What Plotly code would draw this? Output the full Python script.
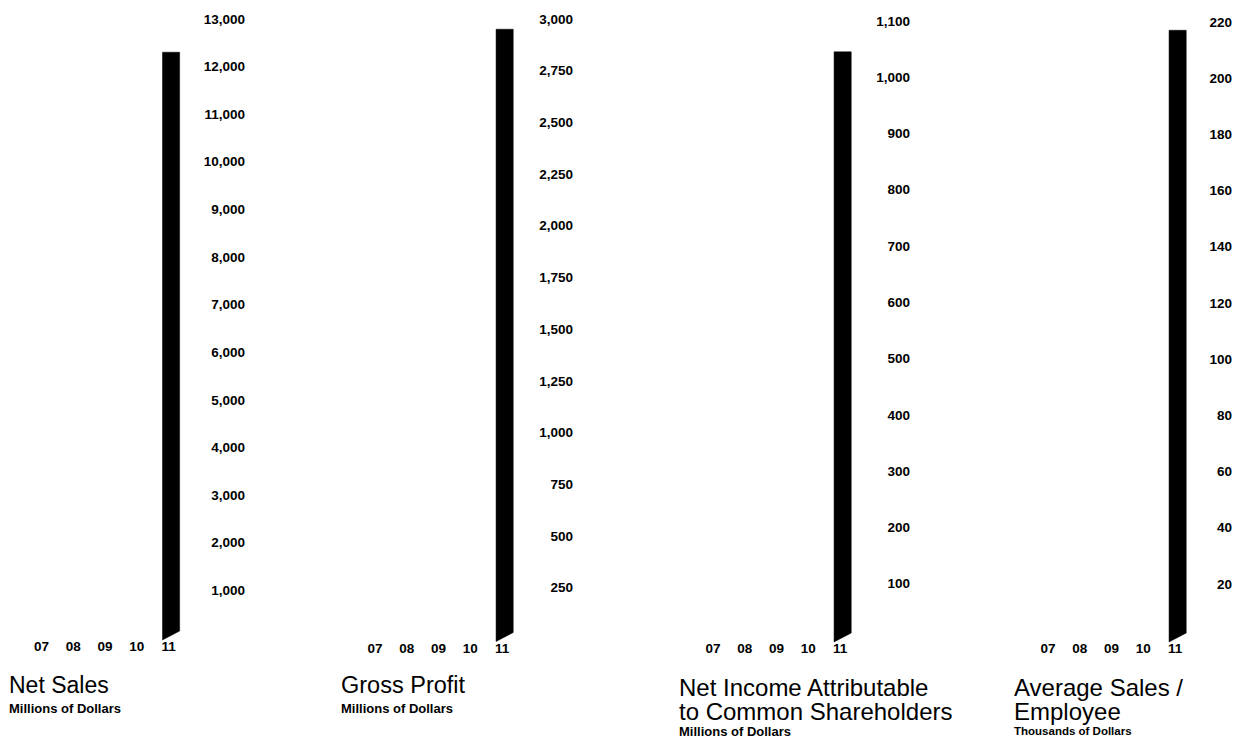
import plotly.graph_objects as go

W, H = 1235, 742

# Fiscal years on the category axis of every panel
years = ["07", "08", "09", "10", "11"]

# Values per panel (only the 2011 bars are printed)
net_sales = [None, None, None, None, 12300]          # millions of dollars
gross_profit = [None, None, None, None, 2950]        # millions of dollars
net_income = [None, None, None, None, 1045]          # millions of dollars
sales_per_employee = [None, None, None, None, 217]   # thousands of dollars

# Tick values for the value axes
ticks_sales = list(range(1000, 13001, 1000))
ticks_profit = list(range(250, 3001, 250))
ticks_income = list(range(100, 1101, 100))
ticks_employee = list(range(20, 221, 20))

FONT = "Liberation Sans, Arial, Helvetica, sans-serif"

# Panel layout in pixels: x-axis left/right, zero line, top tick, label edge
panels = [
    dict(vals=net_sales, ticks=ticks_sales, x0=25.6, x1=184.4, zero=637, top=12, lab=245),
    dict(vals=gross_profit, ticks=ticks_profit, x0=359, x1=518, zero=638.5, top=12, lab=573),
    dict(vals=net_income, ticks=ticks_income, x0=697, x1=856, zero=639, top=14, lab=910),
    dict(vals=sales_per_employee, ticks=ticks_employee, x0=1032, x1=1191, zero=639, top=15, lab=1232),
]

EXT = 5           # px of axis below the zero line for the slanted foot
SLANT_L = 2       # px the left foot drops below zero
SLANT_R = 7       # px the right foot sits above zero
HALF_W = 0.27     # half bar width in category units
BAR_SHIFT = 0.08  # bars sit slightly right of their year label

TICK_FONT = dict(size=13.5, family=FONT, weight="bold", color="black")

fig = go.Figure()
layout = dict(
    width=W, height=H,
    margin=dict(l=0, r=0, t=0, b=0),
    paper_bgcolor="white", plot_bgcolor="white",
    showlegend=False,
    font=dict(family=FONT, color="black"),
)

for k, p in enumerate(panels, start=1):
    sx = "" if k == 1 else str(k)
    top_val = p["ticks"][-1]
    upp = top_val / (p["zero"] - p["top"])  # data units per pixel
    lo = -EXT * upp

    for i, v in enumerate(p["vals"]):
        if v is None:
            continue
        c = i + BAR_SHIFT
        fig.add_trace(go.Scatter(
            x=[c - HALF_W, c - HALF_W, c + HALF_W, c + HALF_W, c - HALF_W],
            y=[-SLANT_L * upp, v, v, SLANT_R * upp, -SLANT_L * upp],
            mode="lines", fill="toself",
            fillcolor="black", line=dict(color="black", width=0.5),
            hoverinfo="skip",
            xaxis="x" + sx, yaxis="y" + sx,
        ))

    layout["xaxis" + sx] = dict(
        domain=[p["x0"] / W, p["x1"] / W],
        range=[-0.5, 4.5],
        tickvals=list(range(len(years))), ticktext=years,
        showgrid=False, zeroline=False, showline=False, ticks="",
        ticklabelstandoff=-6,
        tickfont=TICK_FONT,
        anchor="y" + sx, fixedrange=True,
    )
    layout["yaxis" + sx] = dict(
        domain=[1 - (p["zero"] + EXT) / H, 1 - p["top"] / H],
        range=[lo, top_val],
        tickvals=p["ticks"], tickformat=",d",
        showgrid=False, zeroline=False, showline=False, ticks="",
        side="left", anchor="free", position=p["lab"] / W,
        tickfont=TICK_FONT,
        fixedrange=True,
    )

annotations = []


def text(x, y, s, size, bold=False):
    annotations.append(dict(
        xref="paper", yref="paper", x=x / W, y=1 - y / H,
        xanchor="left", yanchor="middle", showarrow=False, text=s,
        borderpad=0,
        font=dict(size=size, family=FONT, color="black",
                  weight="bold" if bold else "normal"),
    ))


# Panel titles and unit captions
text(8, 684, "Net Sales", 23)
text(8, 708, "Millions of Dollars", 13, True)
text(340, 684, "Gross Profit", 23.5)
text(340, 708, "Millions of Dollars", 13, True)
text(678, 687, "Net Income Attributable", 24)
text(678, 711, "to Common Shareholders", 24)
text(678, 731, "Millions of Dollars", 13, True)
text(1013, 687, "Average Sales /", 24)
text(1013, 711, "Employee", 24)
text(1013, 731, "Thousands of Dollars", 11.5, True)

layout["annotations"] = annotations
fig.update_layout(**layout)

fig.write_html("out.html")
